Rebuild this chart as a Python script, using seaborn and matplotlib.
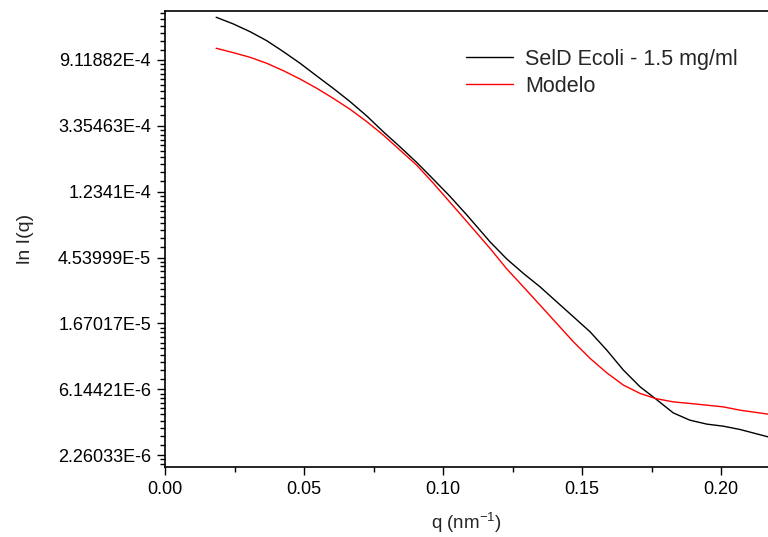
import numpy as np
import pandas as pd
import matplotlib
matplotlib.use("Agg")
import matplotlib.pyplot as plt
import matplotlib.ticker as mticker
import seaborn as sns

# Measured SAXS curve (ln I vs q)
q_exp = [0.0184, 0.0246, 0.0306, 0.0366, 0.0426, 0.0486, 0.0546, 0.0605,
         0.0666, 0.0726, 0.0785, 0.0845, 0.0905, 0.0965, 0.1025, 0.1085,
         0.1169, 0.1229, 0.1289, 0.1349, 0.1409, 0.1469, 0.1529, 0.1589,
         0.1649, 0.1709, 0.1763, 0.1828, 0.1888, 0.1949, 0.2008, 0.2068,
         0.2169]
lnI_exp = [-6.351, -6.453, -6.570, -6.707, -6.874, -7.050, -7.243, -7.430,
           -7.633, -7.851, -8.089, -8.317, -8.554, -8.810, -9.070, -9.350,
           -9.760, -10.020, -10.240, -10.444, -10.672, -10.899, -11.127, -11.405,
           -11.709, -11.963, -12.139, -12.358, -12.469, -12.529, -12.560, -12.610,
           -12.722]

# Model curve
q_model = [0.0184, 0.0246, 0.0306, 0.0366, 0.0426, 0.0486, 0.0546, 0.0605,
           0.0666, 0.0726, 0.0785, 0.0845, 0.0905, 0.0965, 0.1025, 0.1085,
           0.1169, 0.1229, 0.1289, 0.1349, 0.1409, 0.1469, 0.1529, 0.1589,
           0.1649, 0.1709, 0.1763, 0.1828, 0.1888, 0.1949, 0.2008, 0.2068,
           0.2169]
lnI_model = [-6.822, -6.889, -6.959, -7.050, -7.163, -7.289, -7.430, -7.582,
             -7.749, -7.937, -8.139, -8.367, -8.595, -8.870, -9.160, -9.450,
             -9.860, -10.170, -10.444, -10.722, -11.000, -11.279, -11.531, -11.750,
             -11.937, -12.063, -12.139, -12.191, -12.215, -12.241, -12.267, -12.317,
             -12.377]

series_names = ["SelD Ecoli - 1.5 mg/ml", "Modelo"]
series_colors = ["black", "red"]

y_tick_exponents = [-13, -12, -11, -10, -9, -8, -7]
y_tick_labels = ["2.26033E-6", "6.14421E-6", "1.67017E-5", "4.53999E-5",
                 "1.2341E-4", "3.35463E-4", "9.11882E-4"]
x_ticks = [0.00, 0.05, 0.10, 0.15, 0.20]
x_tick_labels = ["0.00", "0.05", "0.10", "0.15", "0.20"]

sns.set_style("ticks")
plt.rcParams["font.family"] = ["Liberation Sans", "DejaVu Sans"]
plt.rcParams["mathtext.fontset"] = "custom"
plt.rcParams["mathtext.rm"] = "Liberation Sans"

df = pd.concat([
    pd.DataFrame({"q": q_exp, "I": np.exp(lnI_exp), "series": series_names[0]}),
    pd.DataFrame({"q": q_model, "I": np.exp(lnI_model), "series": series_names[1]}),
], ignore_index=True)

W, H = 768, 537
fig = plt.figure(figsize=(W / 100, H / 100), dpi=100)
ax = fig.add_axes([165 / W, 1 - 467 / H, 1 - 165 / W, (467 - 11) / H])

sns.lineplot(data=df, x="q", y="I", hue="series", hue_order=series_names,
             palette=dict(zip(series_names, series_colors)), linewidth=1.0,
             estimator=None, sort=False, ax=ax)

# natural-log intensity axis
ax.set_yscale("log", base=np.e)
ax.set_ylim(np.exp(-13.18), np.exp(-6.256))
ax.set_xlim(0, 0.2169)

ax.yaxis.set_major_locator(mticker.FixedLocator(np.exp(y_tick_exponents)))
ax.yaxis.set_major_formatter(mticker.FixedFormatter(y_tick_labels))
minor = []
for n in range(-14, -5):
    minor.extend(np.linspace(np.exp(n), np.exp(n + 1), 11)[1:-1])
ax.yaxis.set_minor_locator(mticker.FixedLocator(minor))
ax.yaxis.set_minor_formatter(mticker.NullFormatter())

ax.xaxis.set_major_locator(mticker.FixedLocator(x_ticks))
ax.xaxis.set_major_formatter(mticker.FixedFormatter(x_tick_labels))
ax.xaxis.set_minor_locator(mticker.MultipleLocator(0.025))

ax.tick_params(which="major", direction="out", length=6, width=1.0,
               labelsize=13, pad=4, color="black", labelcolor="black")
ax.tick_params(which="minor", direction="out", length=3.5, width=1.0, color="black")
ax.tick_params(top=False, right=False)

for side in ["left", "bottom", "top"]:
    ax.spines[side].set_linewidth(1.2)
    ax.spines[side].set_color("black")
ax.spines["right"].set_visible(False)

ax.set_xlabel("q (nm$^{\\mathrm{-1}}$)", fontsize=13.5, labelpad=9)
ax.set_ylabel("ln I(q)", fontsize=14, labelpad=17)

handles, labels = ax.get_legend_handles_labels()
ax.legend(handles, labels, frameon=False, fontsize=15.5, loc="upper left",
          bbox_to_anchor=(466 / W, 1 - 49 / H), bbox_transform=fig.transFigure,
          borderpad=0, borderaxespad=0, handlelength=2.2, handletextpad=0.55,
          labelspacing=0.27)

fig.savefig("out.png", dpi=100)
